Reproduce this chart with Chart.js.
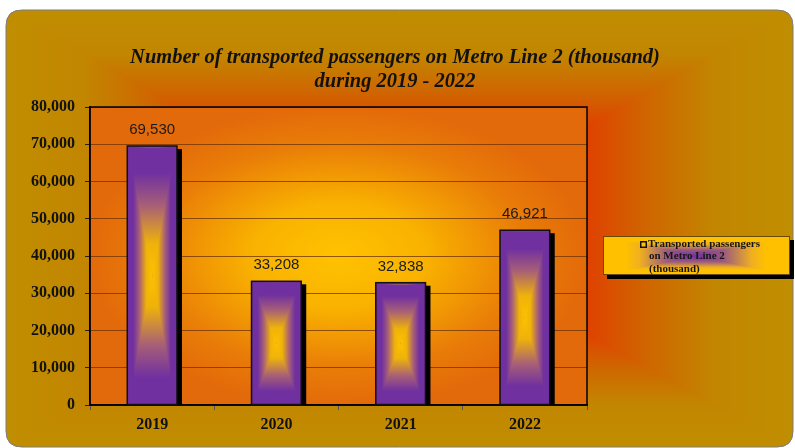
<!DOCTYPE html>
<html>
<head>
<meta charset="utf-8">
<title>Metro Line 2 passengers</title>
<script src="https://cdn.jsdelivr.net/npm/chart.js@4.4.1/dist/chart.umd.min.js"></script>
<style>
  html, body { margin: 0; padding: 0; background: #ffffff; }
  #wrap { width: 795px; height: 448px; }
</style>
</head>
<body>
<div id="wrap"><canvas id="metroChart" width="795" height="448"></canvas></div>
<script>
// Chart data
const years = ['2019', '2020', '2021', '2022'];
const passengers = [69530, 33208, 32838, 46921];
const yTickValues = [0, 10000, 20000, 30000, 40000, 50000, 60000, 70000, 80000];
const titleLines = ['Number of transported passengers on Metro Line 2 (thousand)', 'during 2019 - 2022'];
const seriesLabel = 'Transported passengers on Metro Line 2 (thousand)';

const PURPLE = '#7030a0';
const GOLD = '#ffc000';

// Fill a box with a "from center" rectangular gradient: four triangles,
// each shaded along the direction from the centre point to its edge.
function fillRectGradient(ctx, x, y, w, h, cx, cy, stops) {
  const makeGrad = (x1, y1) => {
    const g = ctx.createLinearGradient(cx, cy, x1, y1);
    stops.forEach(s => g.addColorStop(s[0], s[1]));
    return g;
  };
  ctx.save();
  ctx.beginPath();
  ctx.rect(x, y, w, h);
  ctx.clip();
  // left / right halves as a base layer
  ctx.fillStyle = makeGrad(x, cy);
  ctx.fillRect(x, y, cx - x, h);
  ctx.fillStyle = makeGrad(x + w, cy);
  ctx.fillRect(cx, y, x + w - cx, h);
  // top and bottom wedges
  ctx.fillStyle = makeGrad(cx, y);
  ctx.beginPath();
  ctx.moveTo(x, y);
  ctx.lineTo(x + w, y);
  ctx.lineTo(cx, cy);
  ctx.closePath();
  ctx.fill();
  ctx.fillStyle = makeGrad(cx, y + h);
  ctx.beginPath();
  ctx.moveTo(x, y + h);
  ctx.lineTo(x + w, y + h);
  ctx.lineTo(cx, cy);
  ctx.closePath();
  ctx.fill();
  ctx.restore();
}

function roundRectPath(ctx, x, y, w, h, r) {
  ctx.beginPath();
  ctx.moveTo(x + r, y);
  ctx.lineTo(x + w - r, y);
  ctx.quadraticCurveTo(x + w, y, x + w, y + r);
  ctx.lineTo(x + w, y + h - r);
  ctx.quadraticCurveTo(x + w, y + h, x + w - r, y + h);
  ctx.lineTo(x + r, y + h);
  ctx.quadraticCurveTo(x, y + h, x, y + h - r);
  ctx.lineTo(x, y + r);
  ctx.quadraticCurveTo(x, y, x + r, y);
  ctx.closePath();
}

// Backgrounds: outer rounded panel and the plot area glow
const backgroundPlugin = {
  id: 'backgrounds',
  beforeDraw(chart) {
    const ctx = chart.ctx;
    const area = chart.chartArea;
    ctx.save();
    ctx.fillStyle = '#ffffff';
    ctx.fillRect(0, 0, chart.width, chart.height);

    const fx = 6, fy = 10, fw = 787, fh = 437;
    roundRectPath(ctx, fx, fy, fw, fh, 16);
    ctx.save();
    ctx.clip();
    fillRectGradient(ctx, fx, fy, fw, fh, 400, 232, [
      [0, '#e03c00'], [0.47, '#e04000'], [0.62, '#d06400'], [0.8, '#c28600'], [1, '#c08e00']
    ]);
    ctx.restore();
    roundRectPath(ctx, fx, fy, fw, fh, 16);
    ctx.strokeStyle = '#7d7d7d';
    ctx.lineWidth = 1;
    ctx.stroke();

    // plot area: yellow centre fading to orange
    const pcx = (area.left + area.right) / 2;
    const pcy = (area.top + area.bottom) / 2;
    const rx = (area.right - area.left) / 2;
    const ry = (area.bottom - area.top) / 2;
    ctx.save();
    ctx.beginPath();
    ctx.rect(area.left, area.top, area.right - area.left, area.bottom - area.top);
    ctx.clip();
    ctx.translate(pcx, pcy);
    ctx.scale(rx / ry, 1);
    const g = ctx.createRadialGradient(0, 0, 0, 0, 0, ry);
    g.addColorStop(0, '#ffc200');
    g.addColorStop(0.35, '#f9b200');
    g.addColorStop(0.75, '#e97d08');
    g.addColorStop(1, '#e36a0a');
    ctx.fillStyle = g;
    ctx.fillRect(-ry, -ry, ry * 2, ry * 2);
    ctx.restore();
    ctx.restore();
  }
};

// Title lines, bold italic serif, slightly condensed
const titlePlugin = {
  id: 'twoLineTitle',
  afterDraw(chart) {
    const ctx = chart.ctx;
    ctx.save();
    ctx.translate(395, 0);
    ctx.scale(0.93, 1);
    ctx.fillStyle = '#111111';
    ctx.font = 'italic bold 22px "Liberation Serif", "Times New Roman", serif';
    ctx.textAlign = 'center';
    ctx.textBaseline = 'middle';
    ctx.fillText(titleLines[0], 0, 57);
    ctx.fillText(titleLines[1], 0, 81);
    ctx.restore();
  }
};

// Bars: drop shadow, centre-glow fill, value labels
const barStylePlugin = {
  id: 'barStyle',
  beforeDatasetsDraw(chart) {
    const ctx = chart.ctx;
    const area = chart.chartArea;
    ctx.save();
    // plot border
    ctx.strokeStyle = '#000000';
    ctx.lineWidth = 1.5;
    ctx.strokeRect(area.left, area.top, area.right - area.left, area.bottom - area.top);
    // shadows
    ctx.fillStyle = '#000000';
    chart.getDatasetMeta(0).data.forEach(bar => {
      const p = bar.getProps(['x', 'y', 'base', 'width'], true);
      ctx.fillRect(p.x - p.width / 2 + 5, p.y + 3, p.width, p.base - p.y - 3);
    });
    ctx.restore();
  },
  afterDatasetsDraw(chart) {
    const ctx = chart.ctx;
    ctx.save();
    chart.getDatasetMeta(0).data.forEach((bar, i) => {
      const p = bar.getProps(['x', 'y', 'base', 'width'], true);
      const left = p.x - p.width / 2;
      const h = p.base - p.y;
      fillRectGradient(ctx, left + 1.5, p.y + 1.5, p.width - 3, h - 3, p.x, p.y + h / 2, [
        [0, GOLD], [0.25, '#eeb20a'], [0.55, '#a65e78'], [0.8, PURPLE], [1, PURPLE]
      ]);
      ctx.strokeStyle = '#111111';
      ctx.lineWidth = 1.5;
      ctx.strokeRect(left, p.y, p.width, h);

      ctx.fillStyle = '#1a1a1a';
      ctx.font = '15px "Liberation Sans", Arial, sans-serif';
      ctx.textAlign = 'center';
      ctx.textBaseline = 'middle';
      ctx.fillText(passengers[i].toLocaleString('en-US'), p.x, p.y - 16);
    });
    ctx.restore();
  }
};

// Legend box on the right, text wrapped to three lines
const legendPlugin = {
  id: 'sideLegend',
  afterDraw(chart) {
    const ctx = chart.ctx;
    const bx = 603, by = 236, bw = 187, bh = 39;
    ctx.save();
    ctx.fillStyle = '#000000';
    ctx.fillRect(bx + 4, by + 4, bw, bh);
    fillRectGradient(ctx, bx, by, bw, bh, 695, 256, [
      [0, PURPLE], [0.3, '#9a5a80'], [0.6, '#f0b020'], [0.75, GOLD], [1, GOLD]
    ]);
    ctx.strokeStyle = '#6a4a00';
    ctx.lineWidth = 1;
    ctx.strokeRect(bx + 0.5, by + 0.5, bw - 1, bh - 1);

    ctx.font = 'bold 11px "Liberation Serif", "Times New Roman", serif';
    const words = chart.data.datasets[0].label.split(' ');
    const lines = [];
    let cur = '';
    words.forEach(w => {
      const test = cur ? cur + ' ' + w : w;
      if (ctx.measureText(test).width > 120 && cur) {
        lines.push(cur);
        cur = w;
      } else {
        cur = test;
      }
    });
    if (cur) lines.push(cur);

    // key square
    ctx.fillStyle = '#111111';
    ctx.fillRect(640, 241, 7, 7);
    ctx.fillStyle = GOLD;
    ctx.fillRect(641.5, 242.5, 4, 4);

    ctx.fillStyle = '#161616';
    ctx.textAlign = 'left';
    ctx.textBaseline = 'middle';
    lines.forEach((ln, i) => {
      ctx.fillText(ln, i === 0 ? 648 : 649, 244 + i * 12.5);
    });
    ctx.restore();
  }
};

const ctx = document.getElementById('metroChart');
new Chart(ctx, {
  type: 'bar',
  data: {
    labels: years,
    datasets: [{
      label: seriesLabel,
      data: passengers,
      backgroundColor: PURPLE,
      borderColor: '#111111',
      borderWidth: 0,
      barPercentage: 0.4,
      categoryPercentage: 1.0
    }]
  },
  options: {
    responsive: false,
    animation: false,
    layout: {
      padding: { top: 107, right: 208, left: 0, bottom: 0 }
    },
    scales: {
      y: {
        min: 0,
        max: 80000,
        afterFit: scale => { scale.width = 90; },
        afterBuildTicks: scale => {
          scale.ticks = yTickValues.map(v => ({ value: v }));
        },
        ticks: {
          color: '#111111',
          padding: 10,
          font: { family: '"Liberation Serif", "Times New Roman", serif', size: 16, weight: 'bold' },
          callback: value => value.toLocaleString('en-US')
        },
        grid: {
          color: 'rgba(110, 50, 0, 0.75)',
          lineWidth: 1,
          tickLength: 5,
          tickColor: '#222222'
        },
        border: { display: true, color: '#000000', width: 1.5 }
      },
      x: {
        afterFit: scale => { scale.height = 43; },
        ticks: {
          color: '#111111',
          padding: 5,
          font: { family: '"Liberation Serif", "Times New Roman", serif', size: 16, weight: 'bold' }
        },
        grid: {
          drawOnChartArea: false,
          tickLength: 5,
          color: '#555555',
          tickColor: '#555555'
        },
        border: { display: true, color: '#000000', width: 1.5 }
      }
    },
    plugins: {
      legend: { display: false },
      title: { display: false },
      tooltip: { enabled: false }
    }
  },
  plugins: [backgroundPlugin, barStylePlugin, titlePlugin, legendPlugin]
});
</script>
</body>
</html>
